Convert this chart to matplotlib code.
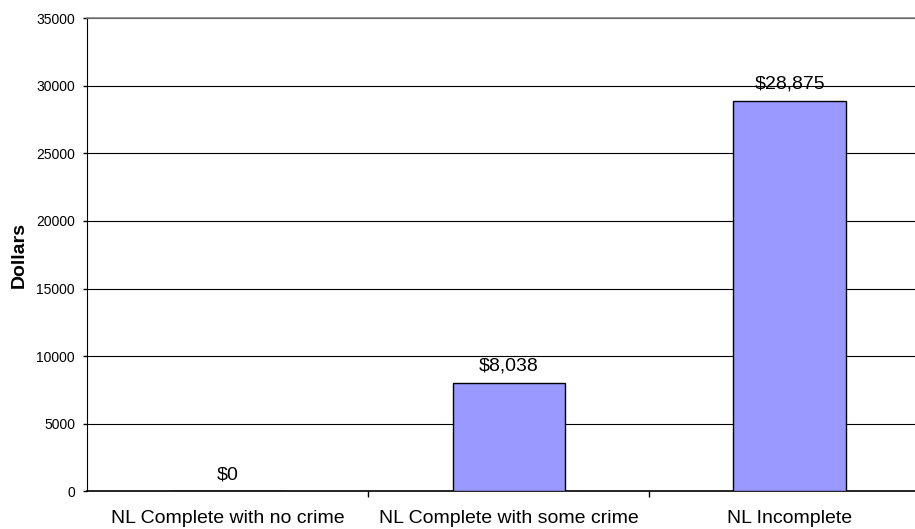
import matplotlib
matplotlib.use("Agg")
import matplotlib.pyplot as plt
import numpy as np

plt.rcParams["font.family"] = ["Liberation Sans", "DejaVu Sans"]

# Data
categories = ["NL Complete with no crime", "NL Complete with some crime", "NL Incomplete"]
dollars = [0, 8038, 28875]
labels = ["$0", "$8,038", "$28,875"]
y_ticks = [0, 5000, 10000, 15000, 20000, 25000, 30000, 35000]

fig = plt.figure(figsize=(9.15, 5.29), dpi=100)
# plot area runs past the right edge, as in the reference
ax = fig.add_axes([0.0956, 0.0709, 0.9208, 0.895])

x = np.arange(len(categories))
ax.bar(x, dollars, width=0.4, color="#9999FF", edgecolor="black", linewidth=1.0, zorder=3)

for xi, v, lab in zip(x, dollars, labels):
    ax.annotate(lab, (xi, v), xytext=(0, 8.6), textcoords="offset points",
                ha="center", va="baseline", fontsize=14)

ax.set_xlim(-0.5, 2.5)
ax.set_ylim(0, 35000)
ax.set_yticks(y_ticks)
ax.set_yticklabels([str(t) for t in y_ticks], fontsize=10)
ax.yaxis.grid(True, color="black", linewidth=0.8, zorder=0)

# category ticks sit between groups
ax.set_xticks([0.5, 1.5], minor=False)
ax.set_xticklabels([])
ax.set_xticks(x, minor=True)
ax.set_xticklabels(categories, minor=True, fontsize=14)
ax.tick_params(axis="x", which="major", direction="out", length=4.5, width=1, color="black")
ax.tick_params(axis="x", which="minor", length=0, pad=13)
ax.tick_params(axis="y", direction="out", length=3, width=1, pad=6)

ax.set_ylabel("Dollars", fontsize=14, fontweight="bold", labelpad=6)

ax.spines["left"].set_color("black")
ax.spines["bottom"].set_color("black")
ax.spines["bottom"].set_linewidth(1.2)
ax.spines["top"].set_color("#808080")
ax.spines["top"].set_linewidth(1.2)
ax.spines["right"].set_visible(False)

fig.savefig("out.png", dpi=100, facecolor="white")
plt.close(fig)
